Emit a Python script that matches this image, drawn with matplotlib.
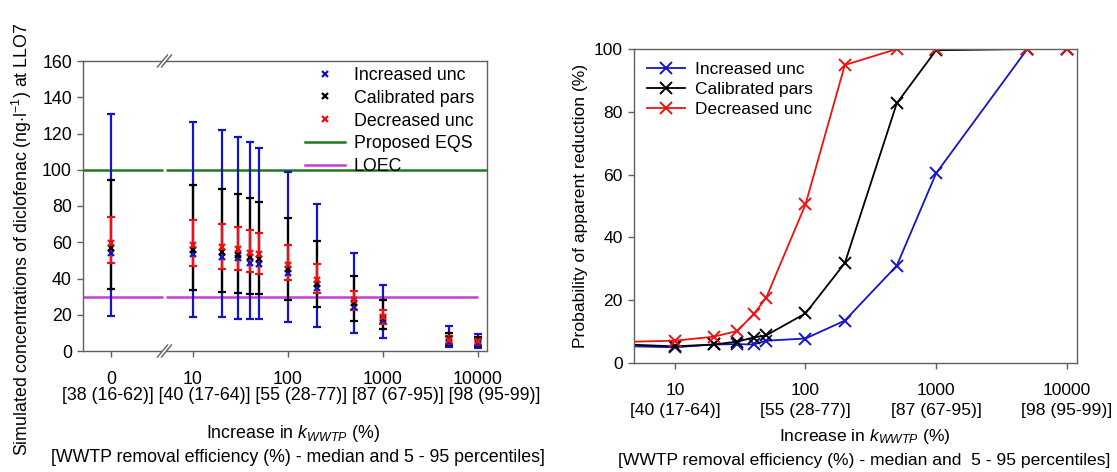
import numpy as np
import matplotlib
matplotlib.use('Agg')
import matplotlib.pyplot as plt
import matplotlib.transforms as mtransforms
from matplotlib.lines import Line2D
from matplotlib.patches import Polygon

plt.rcParams['font.family'] = ['Liberation Sans', 'DejaVu Sans']
plt.rcParams['mathtext.fontset'] = 'custom'
plt.rcParams['mathtext.rm'] = 'Liberation Sans'
plt.rcParams['mathtext.it'] = 'Liberation Sans:italic'
plt.rcParams['font.size'] = 12.8

# increase in k_WWTP (%) for the concentration bands
k_conc = [0, 10, 20, 30, 40, 50, 100, 200, 500, 1000, 5000, 10000]

# medians and 5-95 percentiles (ng/l)
inc_med = [54.2, 53.5, 52.0, 51.1, 48.7, 48.0, 43.2, 34.6, 24.5, 17.1, 4.9, 4.2]
inc_lo = [19.3, 18.6, 18.6, 17.9, 17.9, 17.5, 16.2, 13.4, 9.7, 7.0, 2.4, 1.8]
inc_hi = [130.8, 126.2, 121.9, 118.3, 115.1, 112.0, 98.6, 80.9, 53.9, 36.4, 14.0, 9.2]

cal_med = [56.6, 55.5, 54.5, 53.2, 51.8, 51.0, 45.5, 37.0, 26.5, 18.0, 6.5, 5.8]
cal_lo = [34.2, 33.5, 32.6, 32.0, 31.3, 31.3, 28.1, 24.3, 16.7, 12.0, 3.3, 2.8]
cal_hi = [94.3, 91.6, 89.2, 86.6, 84.2, 82.2, 73.5, 60.7, 41.2, 28.0, 10.0, 7.6]

dec_med = [59.8, 58.5, 57.6, 56.1, 54.3, 53.5, 47.3, 39.2, 28.1, 18.9, 6.3, 5.3]
dec_lo = [48.4, 47.1, 45.5, 44.5, 43.8, 42.3, 39.2, 32.0, 22.6, 14.7, 4.1, 3.5]
dec_hi = [74.1, 72.1, 70.1, 68.6, 66.6, 65.3, 58.5, 48.2, 33.1, 22.6, 8.4, 6.8]

eqs = 100
loec = 30

conc_ticks = [0, 10, 100, 1000, 10000]
removal_labels = ['[38 (16-62)]', '[40 (17-64)]', '[55 (28-77)]',
                  '[87 (67-95)]', '[98 (95-99)]']

# probability of apparent reduction (%)
k_prob = [10, 20, 30, 40, 50, 100, 200, 500, 1000, 5000, 10000]
prob_inc = [5.0, 5.9, 6.0, 5.9, 7.1, 7.8, 13.5, 31.0, 60.4, 100, 100]
prob_cal = [5.3, 5.9, 6.8, 8.1, 8.8, 15.8, 31.8, 82.7, 99.6, 100, 100]
prob_dec = [7.1, 8.4, 10.2, 15.5, 20.8, 50.5, 94.9, 100, 100, 100, 100]
# level with no increase in k_WWTP (runs in from the left edge)
prob_zero = [5.3, 5.8, 6.8]

prob_ticks = [10, 100, 1000, 10000]

BLUE = '#1414c8'
RED = '#ee1111'
GREEN = '#1f7a1f'
MAGENTA = '#c43fd4'
SPINE = '#606060'

# broken axis: 0 sits left of the break, the rest is log10
ZERO_POS = 0.137
BREAK_POS = 0.70
XMIN, XMAX = -0.158, 4.095

W, H = 1117, 472


def kpos(k):
    k = np.asarray(k, float)
    return np.where(k > 0, np.log10(np.where(k > 0, k, 1.0)), ZERO_POS)


def fx(px):
    return px / W


def fy(py):
    return 1 - py / H


fig = plt.figure(figsize=(W / 100, H / 100), dpi=100)
ax1 = fig.add_axes([fx(83), fy(351), 404 / W, 290 / H])
ax2 = fig.add_axes([fx(634), fy(363), 443 / W, 314 / H])

for ax in (ax1, ax2):
    for s in ax.spines.values():
        s.set_color(SPINE)
        s.set_linewidth(1.0)
    ax.tick_params(direction='out', length=4, width=1, color=SPINE)
    ax.tick_params(axis='x', pad=10.5)
    ax.tick_params(axis='y', pad=4)

# ---- left: simulated concentrations ----
x = kpos(k_conc)
gap = 0.021
ax1.hlines([eqs, eqs], [XMIN, BREAK_POS + gap], [BREAK_POS - gap, XMAX],
           color=GREEN, lw=1.8, zorder=2)
ax1.hlines([loec, loec], [XMIN, BREAK_POS + gap], [BREAK_POS - gap, 4.0],
           color=MAGENTA, lw=1.8, zorder=2)

series = [
    (inc_med, inc_lo, inc_hi, BLUE),
    (cal_med, cal_lo, cal_hi, 'black'),
    (dec_med, dec_lo, dec_hi, RED),
]
for med, lo, hi, c in series:
    med = np.array(med)
    err = [med - np.array(lo), np.array(hi) - med]
    ax1.errorbar(x, med, yerr=err, fmt='none', ecolor=c, elinewidth=1.6,
                 capsize=3.2, capthick=1.6, zorder=3)
for med, lo, hi, c in series:
    ax1.plot(x, med, 'x', color=c, ms=5, mew=1.6, zorder=4)

ax1.set_xlim(XMIN, XMAX)
ax1.set_ylim(0, 160)
ax1.set_yticks(range(0, 161, 20))
ax1.set_xticks(kpos(conc_ticks))
ax1.set_xticklabels([str(k) for k in conc_ticks])

# break marks on top and bottom spines
bx = (BREAK_POS - XMIN) / (XMAX - XMIN)
w, h = 404.0, 290.0
for y0 in (0.0, 1.0):
    pts = []
    for off in (-2.0, 2.0):
        x0, x1 = bx + (off - 5) / w, bx + (off + 5) / w
        ya, yb = y0 - 6 / h, y0 + 6 / h
        pts.append(((x0, ya), (x1, yb)))
    poly = Polygon([pts[0][0], pts[0][1], pts[1][1], pts[1][0]],
                   closed=True, transform=ax1.transAxes, fc='white',
                   ec='none', clip_on=False, zorder=5)
    ax1.add_patch(poly)
    for (p0, p1) in pts:
        ax1.plot([p0[0], p1[0]], [p0[1], p1[1]], color=SPINE, lw=1.0,
                 transform=ax1.transAxes, clip_on=False, zorder=6)

handles1 = [
    Line2D([], [], ls='none', marker='x', color=BLUE, ms=5, mew=1.6),
    Line2D([], [], ls='none', marker='x', color='black', ms=5, mew=1.6),
    Line2D([], [], ls='none', marker='x', color=RED, ms=5, mew=1.6),
    Line2D([], [], color=GREEN, lw=1.8),
    Line2D([], [], color=MAGENTA, lw=1.8),
]
labels1 = ['Increased unc', 'Calibrated pars', 'Decreased unc',
           'Proposed EQS', 'LOEC']
ax1.legend(handles1, labels1, loc='upper left',
           bbox_to_anchor=((305 - 83) / 404, 0.98), frameon=False,
           borderpad=0, borderaxespad=0, handlelength=2.25,
           handletextpad=0.5, labelspacing=0.33, fontsize=12.8)

# removal efficiencies run as one row under the numbers
fig.text(fx(301), fy(395), ' '.join(removal_labels),
         ha='center', va='center')
fig.text(fx(22), fy(239),
         r'Simulated concentrations of diclofenac (ng$\cdot$l$^{-1}$) at LLO7',
         rotation=90, ha='center', va='center')
fig.text(fx(293), fy(434), r'Increase in $k_{WWTP}$ (%)',
         ha='center', va='center')
fig.text(fx(298), fy(458),
         '[WWTP removal efficiency (%) - median and 5 - 95 percentiles]',
         ha='center', va='center')

# ---- right: probability of apparent reduction ----
K_LEFT, K_RIGHT = 4.86, 12000
ax2.set_xscale('log')
for vals, z0, c in [(prob_inc, prob_zero[0], BLUE),
                    (prob_cal, prob_zero[1], 'black'),
                    (prob_dec, prob_zero[2], RED)]:
    ax2.plot([K_LEFT] + k_prob, [z0] + vals, color=c, lw=1.3, marker='x',
             ms=8, mew=1.4, markevery=list(range(1, len(k_prob) + 1)))

ax2.set_xlim(K_LEFT, K_RIGHT)
ax2.set_ylim(0, 100)
ax2.set_yticks(range(0, 101, 20))
ax2.set_xticks(prob_ticks)
ax2.set_xticklabels([str(k) for k in prob_ticks], fontsize=12.6)
ax2.xaxis.set_minor_locator(matplotlib.ticker.NullLocator())
ax2.tick_params(axis='y', labelsize=12.6)

row = mtransforms.blended_transform_factory(ax2.transData, fig.transFigure)
for k, lab in zip(prob_ticks, removal_labels[1:]):
    ax2.text(k, fy(411), lab, transform=row, ha='center', va='center',
             fontsize=12.6)

handles2 = [Line2D([], [], color=c, lw=1.3, marker='x', ms=8, mew=1.4)
            for c in (BLUE, 'black', RED)]
ax2.legend(handles2, ['Increased unc', 'Calibrated pars', 'Decreased unc'],
           loc='upper left', bbox_to_anchor=((647 - 634) / 443, 0.96),
           frameon=False, borderpad=0, borderaxespad=0, handlelength=2.2,
           handletextpad=0.57, labelspacing=0.29, fontsize=12.5)

fig.text(fx(581), fy(206), 'Probability of apparent reduction (%)',
         rotation=90, ha='center', va='center', fontsize=12.6)
fig.text(fx(865), fy(436), r'Increase in $k_{WWTP}$ (%)',
         ha='center', va='center', fontsize=12.6)
fig.text(fx(864), fy(461),
         '[WWTP removal efficiency (%) - median and  5 - 95 percentiles]',
         ha='center', va='center', fontsize=12.6)

fig.savefig('out.png', dpi=100)
